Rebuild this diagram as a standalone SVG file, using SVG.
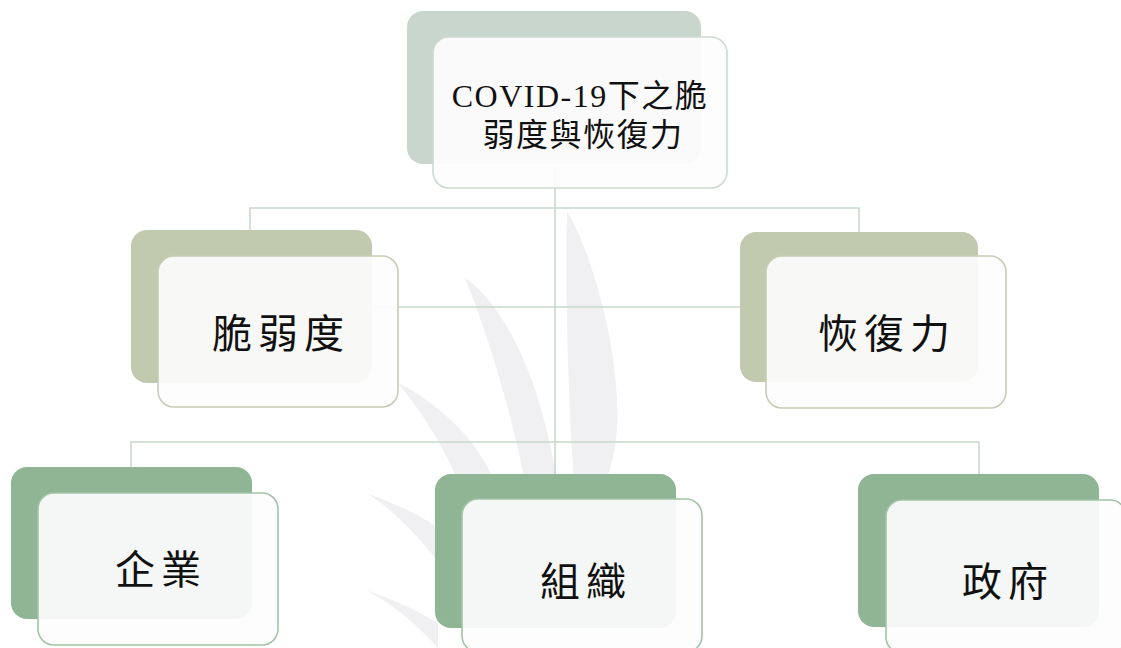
<svg xmlns="http://www.w3.org/2000/svg" width="1121" height="648" viewBox="0 0 1121 648">
  <style>
    .link { stroke: #c8d9cb; stroke-width: 1.6; fill: none; }
    .leaf { fill: #f0f0f2; }
    .front { fill: #fdfdfd; fill-opacity: 0.92; stroke-width: 1.6; }
    .lbl { font-family: "Liberation Serif", "Noto Sans CJK TC", serif; fill: #111; text-anchor: middle; }
    .lv0 .back { fill: #c9d6cb; }
    .lv0 .front { stroke: #cddad0; }
    .lv1 .back { fill: #c1c9ae; }
    .lv1 .front { stroke: #c6cdb4; }
    .lv2 .back { fill: #8fb594; }
    .lv2 .front { stroke: #a2c3a7; }
    .big { font-size: 40px; letter-spacing: 6px; }
    .top { font-size: 32px; letter-spacing: 1.5px; }
  </style>

  <rect width="1121" height="648" fill="#ffffff"/>

  <!-- background foliage -->
  <g id="foliage">
    <path class="leaf" d="M567,212 C580,230 612,310 617,400 C619,440 612,465 606,480 L574,480 C569,420 565,300 567,212 Z"/>
    <path class="leaf" d="M465,278 C498,300 538,365 556,476 L524,476 C508,400 486,330 465,278 Z"/>
    <path class="leaf" d="M398,383 C432,400 472,432 492,476 L456,476 C440,440 420,410 398,383 Z"/>
    <path class="leaf" d="M368,494 C400,505 425,518 438,528 L438,562 C416,532 390,508 368,494 Z"/>
    <path class="leaf" d="M365,590 C396,600 425,614 438,624 L438,648 C415,622 390,602 365,590 Z"/>
  </g>

  <!-- connectors -->
  <g id="connectors">
    <line class="link" x1="555" y1="164" x2="555" y2="474"/>
    <polyline class="link" points="250,230 250,208 859,208 859,232"/>
    <line class="link" x1="372" y1="307" x2="740" y2="307"/>
    <polyline class="link" points="131,467 131,442 979,442 979,474"/>
  </g>

  <!-- root -->
  <g id="node-root" class="lv0">
    <rect class="back" x="407" y="11" width="294" height="153" rx="16"/>
    <rect class="front" x="433" y="37" width="294" height="151" rx="16"/>
    <text class="lbl top" x="580" y="107">COVID-19下之脆</text>
    <text class="lbl top" x="583" y="146">弱度與恢復力</text>
  </g>

  <g id="node-vulnerability" class="lv1">
    <rect class="back" x="131" y="230" width="241" height="153" rx="16"/>
    <rect class="front" x="158" y="256" width="240" height="151" rx="16"/>
    <text class="lbl big" x="281" y="348">脆弱度</text>
  </g>

  <g id="node-resilience" class="lv1">
    <rect class="back" x="740" y="232" width="238" height="150" rx="16"/>
    <rect class="front" x="766" y="256" width="240" height="152" rx="16"/>
    <text class="lbl big" x="887" y="348">恢復力</text>
  </g>

  <g id="node-enterprise" class="lv2">
    <rect class="back" x="11" y="467" width="241" height="152" rx="16"/>
    <rect class="front" x="38" y="493" width="240" height="152" rx="16"/>
    <text class="lbl big" x="161" y="584">企業</text>
  </g>

  <g id="node-organization" class="lv2">
    <rect class="back" x="435" y="474" width="241" height="154" rx="16"/>
    <rect class="front" x="462" y="499" width="240" height="153" rx="16"/>
    <text class="lbl big" x="586" y="596">組織</text>
  </g>

  <g id="node-government" class="lv2">
    <rect class="back" x="858" y="474" width="241" height="153" rx="16"/>
    <rect class="front" x="886" y="500" width="240" height="153" rx="16"/>
    <text class="lbl big" x="1008" y="596">政府</text>
  </g>
</svg>
